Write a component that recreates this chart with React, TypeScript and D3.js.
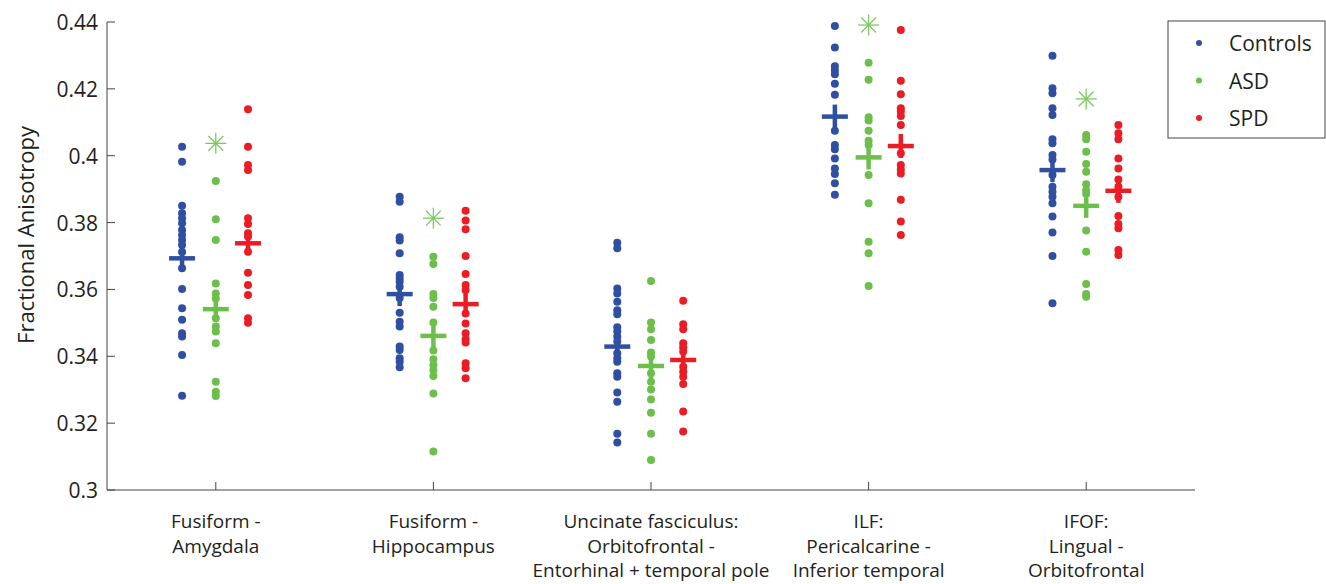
import React from "react";
import * as d3 from "d3";

const categories: string[][] = [
  ["Fusiform -", "Amygdala"],
  ["Fusiform -", "Hippocampus"],
  ["Uncinate fasciculus:", "Orbitofrontal -", "Entorhinal + temporal pole"],
  ["ILF:", "Pericalcarine -", "Inferior temporal"],
  ["IFOF:", "Lingual -", "Orbitofrontal"],
];

const seriesNames = ["Controls", "ASD", "SPD"];
const seriesColors = ["#2f4fa2", "#6bbf4a", "#ec1c24"];
const seriesOffsets = [-0.155, 0, 0.148];

const controls: number[][] = [
  [0.4027, 0.3982, 0.385, 0.3828, 0.3813, 0.3798, 0.3778, 0.3763, 0.3748, 0.3733, 0.3712, 0.3663, 0.3601, 0.3544, 0.3509, 0.3469, 0.3459, 0.3404, 0.3282],
  [0.3877, 0.3862, 0.3756, 0.3746, 0.3708, 0.3643, 0.3633, 0.3623, 0.3608, 0.3574, 0.353, 0.3503, 0.3489, 0.3429, 0.3419, 0.3394, 0.3384, 0.3367],
  [0.374, 0.3723, 0.3603, 0.3588, 0.3563, 0.3538, 0.3526, 0.3487, 0.3474, 0.3459, 0.3444, 0.3409, 0.3394, 0.3384, 0.3349, 0.3339, 0.3292, 0.3264, 0.3168, 0.3142],
  [0.4388, 0.4324, 0.4268, 0.4256, 0.4244, 0.4215, 0.4182, 0.4075, 0.4032, 0.4019, 0.3992, 0.3962, 0.3945, 0.3918, 0.3883],
  [0.4299, 0.4202, 0.4187, 0.4142, 0.4122, 0.4049, 0.4037, 0.4002, 0.3989, 0.3942, 0.3907, 0.3892, 0.3877, 0.3858, 0.3818, 0.377, 0.37, 0.3559],
];

const asd: number[][] = [
  [0.3924, 0.381, 0.3748, 0.3618, 0.3588, 0.3573, 0.3514, 0.3489, 0.3474, 0.3439, 0.3324, 0.3294, 0.3281],
  [0.3698, 0.3676, 0.3586, 0.3574, 0.3548, 0.3501, 0.3417, 0.3391, 0.3374, 0.3359, 0.3341, 0.3289, 0.3115],
  [0.3625, 0.3501, 0.3481, 0.3449, 0.3411, 0.3399, 0.3349, 0.3324, 0.3301, 0.3271, 0.3231, 0.3168, 0.309],
  [0.4278, 0.4227, 0.4115, 0.4105, 0.4075, 0.4045, 0.4032, 0.3942, 0.3858, 0.3743, 0.3708, 0.361],
  [0.4062, 0.4049, 0.4012, 0.3975, 0.3952, 0.3915, 0.3897, 0.3886, 0.3776, 0.3713, 0.3616, 0.3586, 0.3578],
];

const spd: number[][] = [
  [0.4139, 0.4027, 0.3972, 0.3957, 0.3813, 0.3796, 0.3768, 0.3758, 0.3713, 0.365, 0.3613, 0.3583, 0.3514, 0.35],
  [0.3835, 0.3806, 0.378, 0.37, 0.3646, 0.3613, 0.3598, 0.3528, 0.3498, 0.3469, 0.3451, 0.3441, 0.3379, 0.3364, 0.3334],
  [0.3566, 0.3496, 0.3481, 0.3439, 0.3427, 0.3414, 0.3369, 0.3354, 0.3339, 0.3317, 0.3235, 0.3175],
  [0.4376, 0.4224, 0.4184, 0.4142, 0.4132, 0.4119, 0.4092, 0.4007, 0.3972, 0.3959, 0.3947, 0.3868, 0.3803, 0.3763],
  [0.4092, 0.4067, 0.4049, 0.3992, 0.3962, 0.3929, 0.3907, 0.3877, 0.382, 0.3796, 0.3783, 0.3718, 0.3703],
];

const meanControls = [0.3693, 0.3586, 0.3429, 0.4117, 0.3957];
const meanAsd = [0.3541, 0.3461, 0.3371, 0.3995, 0.385];
const meanSpd = [0.3738, 0.3556, 0.3389, 0.4029, 0.3895];

const asdOutliers: (number | null)[] = [0.4037, 0.3813, null, 0.4391, 0.417];

const yTicks = [0.3, 0.32, 0.34, 0.36, 0.38, 0.4, 0.42, 0.44];

const FONT = "'Open Sans', 'Noto Sans', sans-serif";

export default function App() {
  const W = 1326;
  const H = 584;
  const x = d3.scaleLinear().domain([0.5, 5.5]).range([107, 1195]);
  const y = d3.scaleLinear().domain([0.3, 0.44]).range([490, 22]);
  const allSeries = [controls, asd, spd];
  const allMeans = [meanControls, meanAsd, meanSpd];
  const tickLen = 8;
  const txt = "#231f20";

  return (
    <svg width={W} height={H} style={{ position: "absolute", left: 0, top: 0, background: "#fff" }}>
      <rect x={0} y={0} width={W} height={H} fill="#fff" />
      {/* axes */}
      <line x1={x(0.5)} x2={x(0.5)} y1={y(0.44)} y2={y(0.3)} stroke="#444" strokeWidth={1} />
      <line x1={x(0.5)} x2={x(5.5)} y1={y(0.3)} y2={y(0.3)} stroke="#444" strokeWidth={1} />
      {yTicks.map((t) => (
        <g key={"yt" + t}>
          <line x1={x(0.5)} x2={x(0.5) + tickLen} y1={y(t)} y2={y(t)} stroke="#444" strokeWidth={1} />
          <text x={x(0.5) - 9} y={y(t)} textAnchor="end" dominantBaseline="central" fontFamily={FONT} fontSize={21} fill={txt}>
            {d3.format("")(+t.toFixed(2))}
          </text>
        </g>
      ))}
      {categories.map((lines, i) => (
        <g key={"xt" + i}>
          <line x1={x(i + 1)} x2={x(i + 1)} y1={y(0.3)} y2={y(0.3) - tickLen} stroke="#444" strokeWidth={1} />
          {lines.map((l, j) => (
            <text key={j} x={x(i + 1)} y={521 + j * 24.5} textAnchor="middle" dominantBaseline="central" fontFamily={FONT} fontSize={19} fill={txt}>
              {l}
            </text>
          ))}
        </g>
      ))}
      <text
        transform={`translate(25,${235}) rotate(-90)`}
        textAnchor="middle"
        dominantBaseline="central"
        fontFamily={FONT}
        fontSize={22}
        fill={txt}
      >
        Fractional Anisotropy
      </text>

      {/* points */}
      {allSeries.map((ser, s) =>
        ser.map((vals, g) =>
          vals.map((v, k) => (
            <circle key={`p${s}-${g}-${k}`} cx={x(g + 1 + seriesOffsets[s])} cy={y(v)} r={4} fill={seriesColors[s]} />
          ))
        )
      )}
      {/* means */}
      {allMeans.map((ms, s) =>
        ms.map((m, g) => {
          const cx = x(g + 1 + seriesOffsets[s]);
          const cy = y(m);
          return (
            <g key={`m${s}-${g}`} stroke={seriesColors[s]} strokeWidth={4.5}>
              <line x1={cx - 13} x2={cx + 13} y1={cy} y2={cy} />
              <line x1={cx} x2={cx} y1={cy - 12} y2={cy + 12} />
            </g>
          );
        })
      )}
      {/* outliers */}
      {asdOutliers.map((v, g) => {
        if (v === null) return null;
        const cx = x(g + 1 + seriesOffsets[1]);
        const cy = y(v);
        const r = 10.5;
        const d = r * Math.SQRT1_2;
        return (
          <g key={"o" + g} stroke="#7cc863" strokeWidth={1.3}>
            <line x1={cx - r} x2={cx + r} y1={cy} y2={cy} />
            <line x1={cx} x2={cx} y1={cy - r} y2={cy + r} />
            <line x1={cx - d} x2={cx + d} y1={cy - d} y2={cy + d} />
            <line x1={cx - d} x2={cx + d} y1={cy + d} y2={cy - d} />
          </g>
        );
      })}

      {/* legend */}
      <rect x={1168} y={21} width={157} height={117} fill="#fff" stroke="#444" strokeWidth={1} />
      {seriesNames.map((n, i) => (
        <g key={"lg" + i}>
          <circle cx={1199} cy={43 + i * 37.5} r={3} fill={seriesColors[i]} />
          <text x={1229} y={43 + i * 37.5} dominantBaseline="central" fontFamily={FONT} fontSize={21} fill={txt}>
            {n}
          </text>
        </g>
      ))}
    </svg>
  );
}
